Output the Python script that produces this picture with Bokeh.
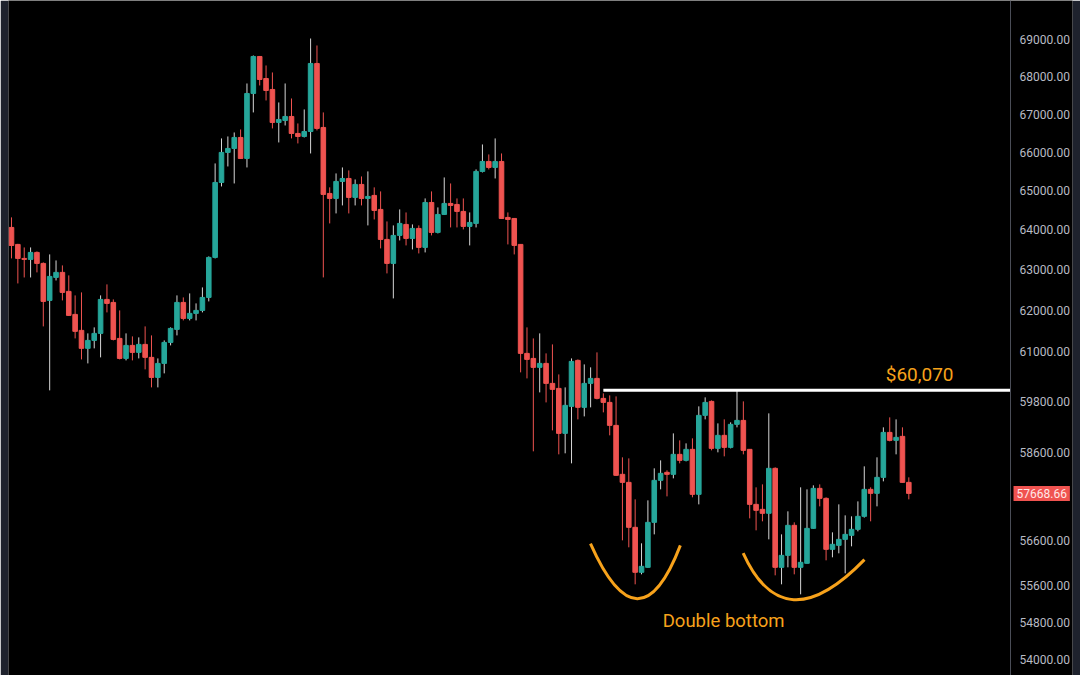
from bokeh.plotting import figure
from bokeh.models import Range1d, FixedTicker, PrintfTickFormatter, Label
from bokeh.embed import file_html
from bokeh.resources import INLINE

# ---- OHLC data ----
opens = [64065, 63636, 63285, 63260, 63435, 63160, 62242, 62811, 62936, 62465,
         61899, 61509, 61073, 61266, 61436, 62267, 62193, 61314, 60831, 61145,
         60976, 61169, 60856, 60376, 60711, 61217, 61533, 62193, 61801, 61924,
         61997, 62316, 63310, 65215, 65994, 66098, 66386, 65837, 67551, 68546,
         67952, 67658, 66781, 66833, 66939, 66491, 66412, 66543, 68357, 66649,
         64932, 64804, 65241, 65318, 64830, 65164, 64804, 64881, 64523, 63762,
         63160, 63863, 64141, 63787, 64040, 63561, 64701, 63939, 64395, 64676,
         64650, 64472, 64091, 64167, 65500, 65759, 65603, 65759, 64319, 64293,
         63636, 60952, 60831, 60616, 60711, 60233, 60114, 59054, 59688, 60783,
         59665, 60233, 60352, 59877, 59782, 59241, 58105, 57921, 56900, 55897,
         56007, 57012, 57967, 58151, 58105, 58566, 58427, 58682, 57647, 59476,
         59806, 58705, 59008, 58728, 59265, 59358, 58682, 57419, 57306, 57216,
         58243, 56007, 56273, 56945, 56007, 56096, 56877, 57784, 57556, 56407,
         56496, 56630, 56720, 56855, 57148, 57761, 57670, 58036, 59077, 58891,
         58984, 57921]
highs = [64320, 63650, 63560, 63560, 63460, 63185, 63385, 63234, 63110, 62861,
         62366, 62440, 61436, 61582, 62366, 62638, 62267, 61997, 61436, 61363,
         61339, 61606, 61387, 60831, 61266, 61582, 62366, 62316, 62415, 62169,
         62563, 63335, 65707, 66360, 66412, 66517, 66596, 67818, 68573, 68560,
         68303, 68114, 67311, 67818, 67417, 66754, 67125, 69035, 68845, 67046,
         65088, 65448, 65603, 65526, 65292, 65370, 65500, 65088, 64984, 64217,
         64116, 64523, 64446, 64141, 64116, 64804, 64984, 64574, 65344, 65189,
         64804, 64804, 64446, 65552, 66202, 65941, 66360, 65967, 64446, 64300,
         63640, 61582, 61314, 61436, 60952, 61169, 60447, 60138, 60831, 60807,
         60687, 60616, 60976, 59996, 59948, 59924, 58497, 58473, 57533, 56541,
         57510, 58243, 58427, 58197, 59054, 58891, 58821, 58938, 59688, 59901,
         59829, 59288, 59382, 59312, 60070, 59806, 58690, 57807, 57875, 59523,
         58266, 56742, 57261, 57012, 57807, 57761, 57853, 57875, 57579, 56787,
         57419, 57170, 57148, 57487, 58289, 57807, 58497, 59195, 59429, 59382,
         59195, 58036]
lows = [63285, 62662, 62810, 62810, 62936, 61606, 60067, 62736, 62242, 61860,
        61314, 60807, 60711, 61073, 60856, 61948, 61266, 60807, 60783, 60783,
        60831, 60568, 60138, 60138, 60472, 61145, 61387, 61752, 61752, 61752,
        61948, 62218, 63285, 65112, 65629, 65189, 65830, 65603, 67046, 67765,
        67364, 66623, 66255, 66701, 66360, 66229, 66386, 65967, 66570, 62811,
        64167, 64421, 64625, 64421, 64625, 64625, 64116, 64268, 63536, 62911,
        62292, 63737, 63611, 63510, 63410, 63435, 63863, 63914, 64380, 64065,
        64065, 64015, 63611, 64065, 65474, 65552, 65318, 64280, 63636, 63385,
        60496, 60352, 58636, 60019, 59782, 59124, 58566, 58590, 58358, 59382,
        59452, 59665, 59853, 59547, 59008, 58070, 56608, 56452, 55632, 55852,
        56000, 56742, 57761, 57601, 58013, 58358, 58404, 57579, 57419, 59382,
        58659, 58613, 58520, 58705, 59195, 58566, 57102, 56832, 57035, 56630,
        55830, 55632, 56007, 55852, 55412, 56090, 56870, 57374, 56162, 56229,
        56318, 55874, 56474, 56810, 57120, 57035, 57374, 57944, 58868, 58566,
        57915, 57533]
closes = [63610, 63285, 63260, 63435, 63160, 62218, 62836, 62936, 62440, 61875,
          61485, 61073, 61266, 61436, 62267, 62169, 61290, 60831, 61145, 60976,
          61169, 60856, 60376, 60711, 61217, 61557, 62193, 61801, 61924, 61997,
          62316, 63310, 65215, 65994, 66098, 66386, 65837, 67551, 68546, 67925,
          67631, 66781, 66860, 66939, 66491, 66412, 66543, 68357, 66623, 64907,
          64804, 65241, 65318, 64830, 65164, 64804, 64855, 64497, 63762, 63160,
          63863, 64167, 63787, 64040, 63561, 64701, 63939, 64395, 64676, 64625,
          64472, 64091, 64192, 65500, 65759, 65603, 65759, 64293, 64268, 63611,
          60952, 60807, 60616, 60711, 60233, 60091, 59054, 59712, 60759, 59665,
          60233, 60352, 59877, 59782, 59241, 58082, 57921, 56900, 55897, 56029,
          57012, 57967, 58128, 58105, 58566, 58427, 58682, 57647, 59476, 59782,
          58705, 59008, 58728, 59265, 59358, 58659, 57419, 57284, 57216, 58243,
          56007, 56273, 56945, 56007, 56118, 56877, 57784, 57556, 56407, 56519,
          56630, 56742, 56855, 57148, 57761, 57670, 58036, 59077, 58891, 58961,
          57921, 57668.66]

# axis ticks
y_ticks = [54000, 54800, 55600, 56600, 58600, 59800, 61000, 62000, 63000,
           64000, 65000, 66000, 67000, 68000, 69000]
last_price = 57668.66
resistance = 60070
resistance_label = "$60,070"
pattern_label = "Double bottom"

# annotation anchors (bar index, price)
res_start = 93
res_label_pos = (142.7, 60447)
pattern_label_pos = (111.9, 54823)
arc_x0 = [90.98, 114.97]
arc_y0 = [56534, 56325]
arc_cx = [98.6, 121.35]
arc_cy = [54144, 54356]
arc_x1 = [105.1, 134.03]
arc_y1 = [56496, 56178]

GREEN = "#26a69a"
RED = "#ef5350"
ORANGE = "#f7a21b"
FONT = "Roboto"

n = len(opens)
xs = list(range(n))
up = [c >= o for o, c in zip(opens, closes)]
body_col = [GREEN if u else RED for u in up]
wick_col = ["#d6d6d6" if u else RED for u in up]
tops = [max(o, c) for o, c in zip(opens, closes)]
bots = [min(o, c) for o, c in zip(opens, closes)]

X0, X1 = -0.47, 166.72      # visible bar-index window
AXIS_X = 156.98             # price scale position (bar-index units)

p = figure(width=1080, height=675, output_backend="svg", toolbar_location=None,
           y_axis_type="log", x_axis_location=None, y_axis_location="right",
           x_range=Range1d(X0, X1), y_range=Range1d(53661.6, 70080.5),
           min_border_left=8, min_border_top=0, min_border_bottom=0,
           min_border_right=8)
p.background_fill_color = "#000000"
p.border_fill_color = "#1e222d"
p.outline_line_color = None
p.grid.visible = False

ax = p.yaxis[0]
ax.fixed_location = AXIS_X
ax.ticker = FixedTicker(ticks=y_ticks)
ax.formatter = PrintfTickFormatter(format="%.2f")
ax.axis_line_color = "#4a4d57"
ax.major_tick_line_color = None
ax.minor_tick_line_color = None
ax.major_tick_out = 0
ax.major_tick_in = 0
ax.major_label_standoff = 9
ax.major_label_text_color = "#b8bbc4"
ax.major_label_text_font = FONT
ax.major_label_text_font_size = "12px"

p.segment(x0=xs, y0=lows, x1=xs, y1=highs, line_color=wick_col, line_width=1)
p.vbar(x=xs, width=0.72, top=tops, bottom=bots, fill_color=body_col,
       line_color=body_col, line_width=1)

# resistance line
p.segment(x0=[res_start], y0=[resistance], x1=[AXIS_X], y1=[resistance],
          line_color="#ffffff", line_width=3)
p.add_layout(Label(x=res_label_pos[0], y=res_label_pos[1], text=resistance_label,
                   text_align="center", text_baseline="middle", text_color=ORANGE,
                   text_font=FONT, text_font_size="19px"))

# double bottom arcs
p.quadratic(x0=arc_x0, y0=arc_y0, x1=arc_x1, y1=arc_y1, cx=arc_cx, cy=arc_cy,
            line_color=ORANGE, line_width=3)
p.add_layout(Label(x=pattern_label_pos[0], y=pattern_label_pos[1], text=pattern_label,
                   text_align="center", text_baseline="middle", text_color=ORANGE,
                   text_font=FONT, text_font_size="18.5px"))

# last price tag
p.add_layout(Label(x=AXIS_X, y=last_price, text=f"{last_price:.2f}", x_offset=3,
                   text_align="left", text_baseline="middle", text_color="#ffe8e8",
                   text_font=FONT, text_font_size="12px",
                   background_fill_color="#f05350", padding=3))

open("out.html", "w").write(file_html(p, INLINE))
